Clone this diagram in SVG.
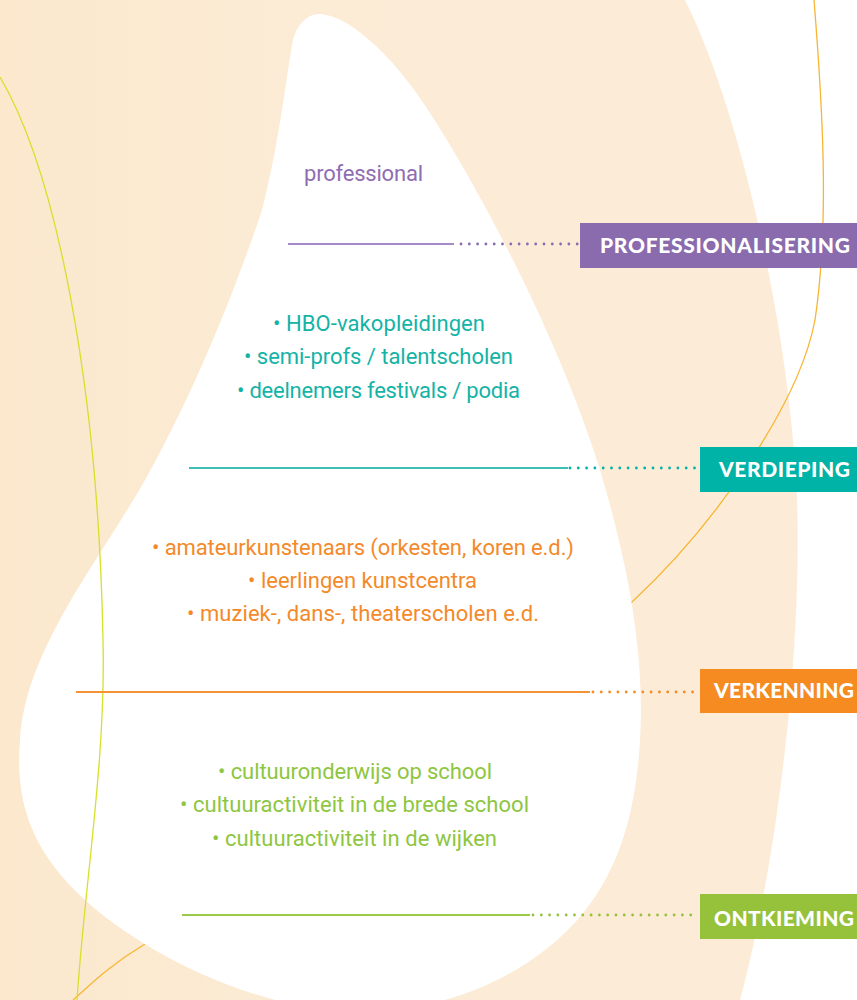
<svg xmlns="http://www.w3.org/2000/svg" width="857" height="1000" viewBox="0 0 857 1000">
  <defs>
    <linearGradient id="cream" x1="0" y1="0" x2="857" y2="0" gradientUnits="userSpaceOnUse">
      <stop offset="0" stop-color="#FBE8CD"/>
      <stop offset="0.4" stop-color="#FCECD6"/>
      <stop offset="1" stop-color="#FCEBD6"/>
    </linearGradient>
    <style>
      .body { font-family: Roboto, "Liberation Sans", sans-serif; font-size: 22px; }
      .lbl { font-family: Lato, "Liberation Sans", sans-serif; font-weight: 900; font-size: 21px; fill: #FFFFFF; }
      .solid { stroke-width: 2; fill: none; }
      .dots { stroke-width: 2.8; stroke-linecap: round; stroke-dasharray: 0 8.3; fill: none; }
    </style>
  </defs>

  <g id="background">
    <rect x="0" y="0" width="857" height="1000" fill="#FFFFFF"/>
    <path d="M0,0 L685,0 C740,110 790,330 797,500 C802,640 780,850 740,1000 L0,1000 Z" fill="url(#cream)"/>
    <path d="M814,0 C822,100 830,220 815,320 C800,400 720,520 632,602 L145,944 C110,965 90,985 73,1000" fill="none" stroke="#F8B534" stroke-width="1.3"/>
    <path id="drop" d="M319,14 C345,14 390,50 430,113 C480,190 560,340 600,470 C630,570 645,660 640,740 C635,830 610,900 545,950 C500,985 440,1010 360,1012 C250,1010 140,950 85,900 C30,850 15,800 20,740 C25,650 100,560 145,480 C190,400 232,300 262,210 C280,140 287,70 293,40 C297,25 307,14 319,14 Z" fill="#FFFFFF"/>
    <path d="M0,77 C55,170 98,380 103,640 C106,760 85,880 77,1000" fill="none" stroke="#D6E02A" stroke-width="1.3"/>
  </g>

  <g id="connectors">
    <line class="solid" x1="288" y1="244" x2="454" y2="244" stroke="#A68AC8"/>
    <line class="dots" x1="461" y1="244" x2="578" y2="244" stroke="#8A6BAE"/>
    <line class="solid" x1="189" y1="468" x2="568" y2="468" stroke="#3DBFB5"/>
    <line class="dots" x1="570" y1="468" x2="698" y2="468" stroke="#00B3A7"/>
    <line class="solid" x1="76" y1="692" x2="590" y2="692" stroke="#F39237"/>
    <line class="dots" x1="593" y1="692" x2="698" y2="692" stroke="#F58B21"/>
    <line class="solid" x1="182" y1="915" x2="530" y2="915" stroke="#9BC94A"/>
    <line class="dots" x1="533" y1="915" x2="696" y2="915" stroke="#96C13B"/>
  </g>

  <g id="level-professional">
    <text class="body" x="304" y="181" fill="#8F6DB2" textLength="119">professional</text>
  </g>

  <g id="level-verdieping-items">
    <text class="body" x="273" y="331" fill="#14B3A6" textLength="212">• HBO-vakopleidingen</text>
    <text class="body" x="244" y="364" fill="#14B3A6" textLength="269">• semi-profs / talentscholen</text>
    <text class="body" x="237" y="398" fill="#14B3A6" textLength="283">• deelnemers festivals / podia</text>
  </g>

  <g id="level-verkenning-items">
    <text class="body" x="152" y="555" fill="#F4892A" textLength="422">• amateurkunstenaars (orkesten, koren e.d.)</text>
    <text class="body" x="248" y="588" fill="#F4892A" textLength="229">• leerlingen kunstcentra</text>
    <text class="body" x="187" y="621" fill="#F4892A" textLength="352">• muziek-, dans-, theaterscholen e.d.</text>
  </g>

  <g id="level-ontkieming-items">
    <text class="body" x="218" y="779" fill="#8EC641" textLength="274">• cultuuronderwijs op school</text>
    <text class="body" x="180" y="812" fill="#8EC641" textLength="349">• cultuuractiviteit in de brede school</text>
    <text class="body" x="212" y="846" fill="#8EC641" textLength="285">• cultuuractiviteit in de wijken</text>
  </g>

  <g id="label-professionalisering">
    <rect x="580" y="223" width="277" height="45" fill="#8A6BAE"/>
    <text class="lbl" x="600" y="253" textLength="250">PROFESSIONALISERING</text>
  </g>
  <g id="label-verdieping">
    <rect x="700" y="447" width="157" height="45" fill="#00B3A7"/>
    <text class="lbl" x="719" y="477" textLength="131">VERDIEPING</text>
  </g>
  <g id="label-verkenning">
    <rect x="700" y="669" width="157" height="44" fill="#F58B21"/>
    <text class="lbl" x="714" y="698" textLength="140">VERKENNING</text>
  </g>
  <g id="label-ontkieming">
    <rect x="700" y="894" width="157" height="45" fill="#96C13B"/>
    <text class="lbl" x="714" y="926" textLength="140">ONTKIEMING</text>
  </g>
</svg>
